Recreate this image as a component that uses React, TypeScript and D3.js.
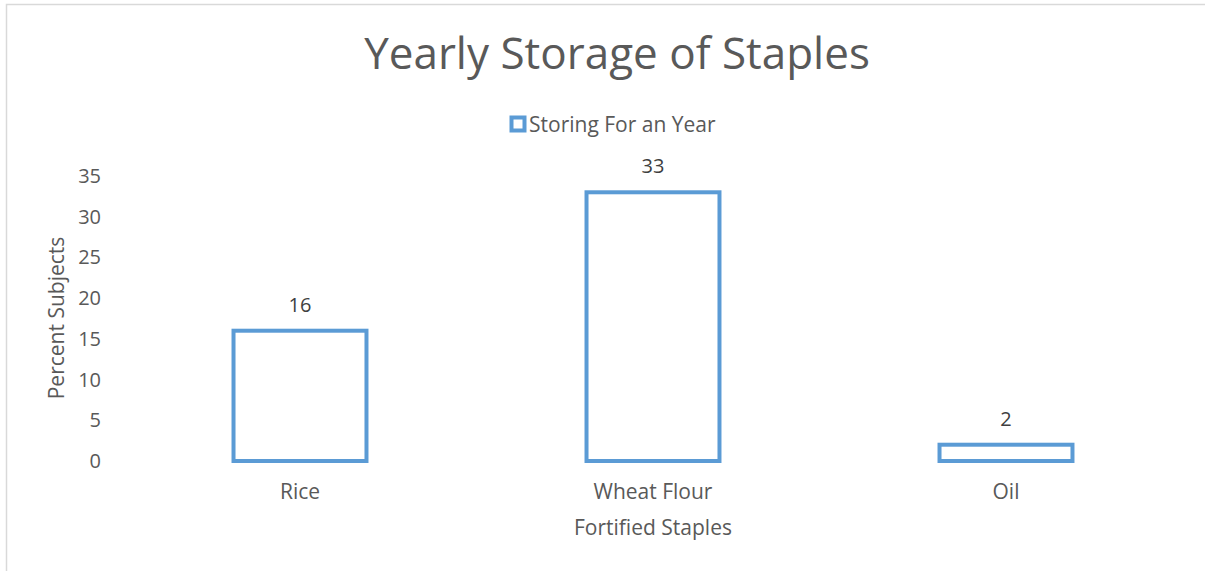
import React from "react";
import * as d3 from "d3";

const categories = ["Rice", "Wheat Flour", "Oil"];
const values = [16, 33, 2];
const yTicks = [0, 5, 10, 15, 20, 25, 30, 35];
const seriesName = "Storing For an Year";
const chartTitle = "Yearly Storage of Staples";
const xTitle = "Fortified Staples";
const yTitle = "Percent Subjects";

const W = 1205;
const H = 571;
const FONT = "'Open Sans', 'Noto Sans', sans-serif";
const BLUE = "#5B9BD5";
const GREY = "#595959";

export default function App() {
  const x = d3.scaleBand<string>().domain(categories).range([123.5, 1182.5]).paddingInner(0.612).paddingOuter(0.306);
  const y = d3.scaleLinear().domain([0, 35]).range([461, 176]);
  const bw = x.bandwidth();
  return (
    <svg width={W} height={H} style={{ position: "absolute", left: 0, top: 0, background: "#fff" }}>
      <rect x={6.5} y={4.5} width={W + 10} height={H + 10} fill="#fff" stroke="#d9d9d9" strokeWidth={1.5} />
      <text x={617} y={69} textAnchor="middle" fontFamily={FONT} fontSize={44} fill={GREY}>
        {chartTitle}
      </text>
      <g>
        <rect x={511.5} y={117.5} width={13} height={13} fill="#fff" stroke={BLUE} strokeWidth={4} />
        <text x={529} y={132} fontFamily={FONT} fontSize={21} fill={GREY}>
          {seriesName}
        </text>
      </g>
      {yTicks.map((t) => (
        <text key={t} x={101} y={y(t)} dy="0.35em" textAnchor="end" fontFamily={FONT} fontSize={20} fill={GREY}>
          {t}
        </text>
      ))}
      <text
        transform={`translate(57,${318}) rotate(-90)`}
        textAnchor="middle"
        dy="0.35em"
        fontFamily={FONT}
        fontSize={21}
        fill={GREY}
      >
        {yTitle}
      </text>
      {categories.map((c, i) => {
        const x0 = x(c)!;
        const yTop = y(values[i]);
        return (
          <g key={c}>
            <rect x={x0 + 2} y={yTop} width={bw - 4} height={y(0) - yTop} fill="#fff" stroke={BLUE} strokeWidth={4} />
            <text x={x0 + bw / 2} y={yTop - 19} textAnchor="middle" fontFamily={FONT} fontSize={20} fill="#404040">
              {values[i]}
            </text>
            <text x={x0 + bw / 2} y={492} dy="0.35em" textAnchor="middle" fontFamily={FONT} fontSize={21} fill={GREY}>
              {c}
            </text>
          </g>
        );
      })}
      <text x={653} y={528} dy="0.35em" textAnchor="middle" fontFamily={FONT} fontSize={21} fill={GREY}>
        {xTitle}
      </text>
    </svg>
  );
}
